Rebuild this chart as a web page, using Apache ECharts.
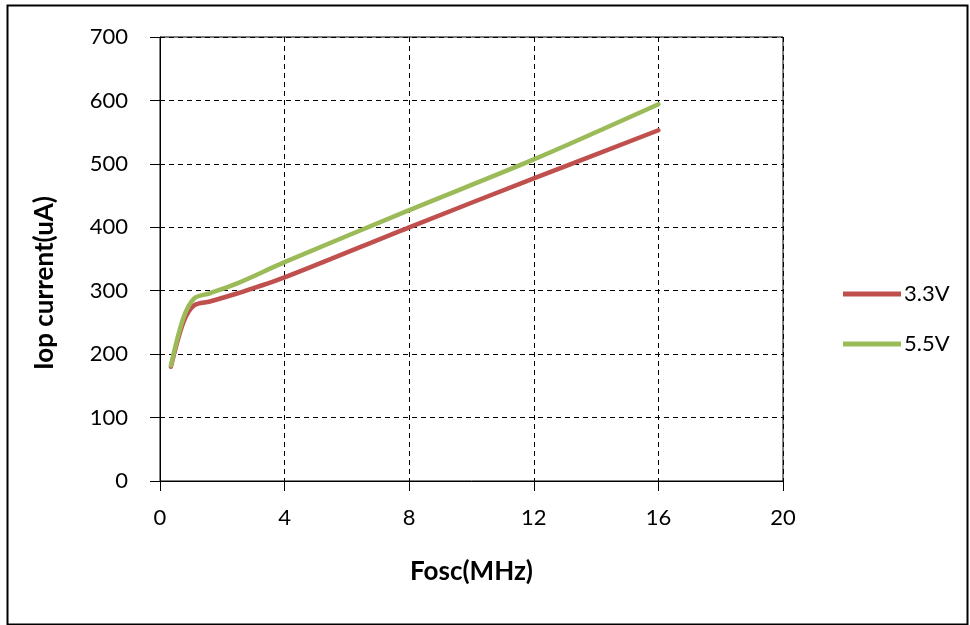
<!DOCTYPE html>
<html><head><meta charset="utf-8">
<script src="https://cdn.jsdelivr.net/npm/echarts@6/dist/echarts.min.js"></script>
<style>html,body{margin:0;padding:0;background:#fff}#c{width:970px;height:625px}</style>
</head><body><div id="c"></div>
<script>
const freq = [0.35, 0.75, 1.1, 1.6, 2.5, 4, 8, 12, 16];
const v33 = [180, 250, 277, 283, 296, 321, 400, 477, 553];
const v55 = [182, 257, 288, 296, 312, 345, 427, 507, 594];
const seriesNames = ['3.3V', '5.5V'];
const xTicks = [0, 4, 8, 12, 16, 20];
const yTicks = [0, 100, 200, 300, 400, 500, 600, 700];
const FONT = 'Lato';

const chart = echarts.init(document.getElementById('c'), null, {renderer: 'canvas'});
chart.setOption({
  backgroundColor: '#fff',
  animation: false,
  grid: {left: 160, right: 187, top: 37, bottom: 144, show: true, borderColor: '#000', borderWidth: 1, backgroundColor: 'transparent'},
  xAxis: {
    type: 'value', min: xTicks[0], max: xTicks[xTicks.length - 1], interval: 4,
    name: 'Fosc(MHz)', nameLocation: 'middle', nameGap: 78,
    nameTextStyle: {fontFamily: FONT, fontSize: 26, fontWeight: 'bold', color: '#000'},
    axisLine: {show: true, lineStyle: {color: '#000', width: 1}},
    axisTick: {show: true, length: 10, lineStyle: {color: '#000'}},
    axisLabel: {fontFamily: FONT, fontSize: 22, color: '#000', margin: 26},
    splitLine: {show: true, lineStyle: {color: '#000', type: [5, 4], width: 1}}
  },
  yAxis: {
    type: 'value', min: yTicks[0], max: yTicks[yTicks.length - 1], interval: 100,
    axisLine: {show: true, lineStyle: {color: '#000', width: 1}},
    axisTick: {show: true, length: 10, lineStyle: {color: '#000'}},
    axisLabel: {fontFamily: FONT, fontSize: 22, color: '#000', margin: 32},
    splitLine: {show: true, lineStyle: {color: '#000', type: [5, 4], width: 1}}
  },
  legend: {
    orient: 'vertical', left: 838, top: 278, itemGap: 28,
    itemWidth: 58, itemHeight: 5, icon: 'rect',
    textStyle: {fontFamily: FONT, fontSize: 22, color: '#000', padding: [0, 0, 0, -2]},
    data: seriesNames
  },
  series: [
    {name: seriesNames[0], type: 'line', smooth: 0.3, showSymbol: false, color: '#C0504D',
     lineStyle: {width: 4.5, color: '#C0504D', cap: 'round'},
     data: freq.map((f, i) => [f, v33[i]])},
    {name: seriesNames[1], type: 'line', smooth: 0.3, showSymbol: false, color: '#9BBB59',
     lineStyle: {width: 4.5, color: '#9BBB59', cap: 'round'},
     data: freq.map((f, i) => [f, v55[i]])}
  ],
  graphic: [
    {type: 'rect', left: 5, top: 3, shape: {width: 960, height: 619}, style: {fill: 'none', stroke: '#000', lineWidth: 2}, silent: true},
    {type: 'text', x: 45, y: 283, rotation: Math.PI / 2,
     style: {text: 'Iop current(uA)', fontFamily: FONT, fontSize: 26, fontWeight: 'bold', fill: '#000', align: 'center', verticalAlign: 'middle'}}
  ]
});
</script></body></html>
